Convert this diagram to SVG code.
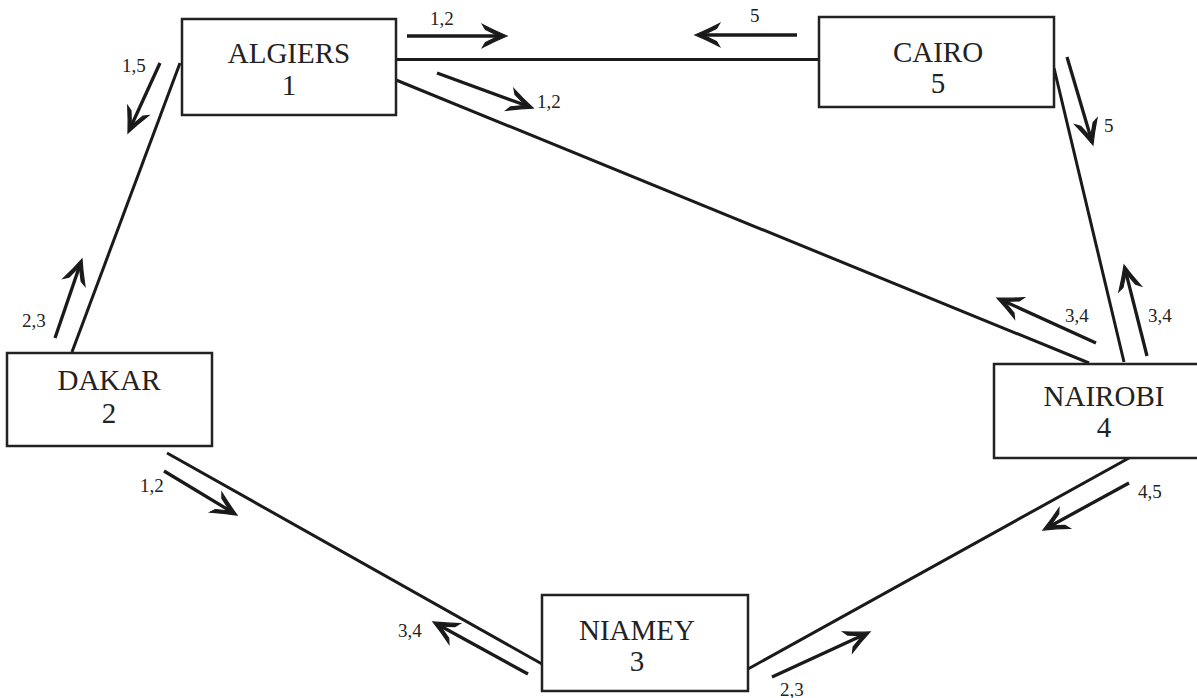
<svg xmlns="http://www.w3.org/2000/svg" width="1197" height="698" viewBox="0 0 1197 698">
  <style>
    .box { fill: #ffffff; stroke: #222; stroke-width: 2.5; }
    .name { font-family: "Liberation Serif", "Times New Roman", "DejaVu Serif", serif; font-size: 29px; fill: #222; text-anchor: middle; }
    .link { stroke: #1a1a1a; stroke-width: 3; fill: none; }
    .flow { stroke: #1a1a1a; stroke-width: 3.3; fill: none; marker-end: url(#head); }
    .lbl { font-family: "Liberation Serif", "Times New Roman", "DejaVu Serif", serif; font-size: 19px; fill: #222; }
  </style>
  <defs>
    <!-- barbed arrowhead; tip sits 8px beyond the end of the shaft -->
    <marker id="head" markerUnits="userSpaceOnUse" viewBox="-30 -14 32 28" markerWidth="32" markerHeight="28" refX="-8" refY="0" orient="auto">
      <path d="M0,0 Q-12,-5 -24.5,-11.5 L-21.5,-6.5 Q-14,-2.8 -8,0 Q-14,2.8 -21.5,6.5 L-24.5,11.5 Q-12,5 0,0 Z" fill="#1a1a1a" stroke="#1a1a1a" stroke-width="1.2" stroke-linejoin="miter"/>
    </marker>
  </defs>
  <rect width="1197" height="698" fill="#ffffff"/>

  <!-- links between cities -->
  <g id="connectors">
    <line class="link" x1="396" y1="59.5" x2="819" y2="59.5"/>
    <line class="link" x1="396" y1="80" x2="1089" y2="363"/>
    <line class="link" x1="180" y1="63" x2="72" y2="352"/>
    <line class="link" x1="1054" y1="68" x2="1124" y2="362"/>
    <line class="link" x1="1129" y1="458" x2="748" y2="669"/>
    <line class="link" x1="167" y1="453" x2="542" y2="664"/>

    <!-- traffic direction arrows -->
    <path class="flow" d="M407,36 L499,36"/>
    <path class="flow" d="M797,35 L703,35"/>
    <path class="flow" d="M437,73 L525.5,105.3"/>
    <path class="flow" d="M160,63 L131.3,125.7"/>
    <path class="flow" d="M55,338 L79.4,266.6"/>
    <path class="flow" d="M1067,57 L1090.7,137.3"/>
    <path class="flow" d="M1147,356 L1126,272.8"/>
    <path class="flow" d="M1096,343 L1004.3,301.3"/>
    <path class="flow" d="M1129,483 L1050,526.2"/>
    <path class="flow" d="M164,471 L230.1,510.9"/>
    <path class="flow" d="M528,674 L440,625.8"/>
    <path class="flow" d="M772,677 L862.7,635.3"/>

    <text class="lbl" x="430" y="25">1,2</text>
    <text class="lbl" x="750" y="22">5</text>
    <text class="lbl" x="537" y="108">1,2</text>
    <text class="lbl" x="122" y="72">1,5</text>
    <text class="lbl" x="22" y="327">2,3</text>
    <text class="lbl" x="1104" y="132">5</text>
    <text class="lbl" x="1148" y="322">3,4</text>
    <text class="lbl" x="1065" y="322">3,4</text>
    <text class="lbl" x="1138" y="498">4,5</text>
    <text class="lbl" x="140" y="492">1,2</text>
    <text class="lbl" x="398" y="637">3,4</text>
    <text class="lbl" x="780" y="696">2,3</text>
  </g>

  <g id="algiers">
    <rect class="box" x="182" y="19" width="214" height="96"/>
    <text class="name" x="289" y="63">ALGIERS</text>
    <text class="name" x="289" y="95">1</text>
  </g>
  <g id="cairo">
    <rect class="box" x="819" y="17" width="235" height="90"/>
    <text class="name" x="938" y="62">CAIRO</text>
    <text class="name" x="938" y="93">5</text>
  </g>
  <g id="dakar">
    <rect class="box" x="7" y="353" width="205" height="93"/>
    <text class="name" x="109" y="390">DAKAR</text>
    <text class="name" x="109" y="423">2</text>
  </g>
  <g id="nairobi">
    <rect class="box" x="994" y="364" width="220" height="94"/>
    <text class="name" x="1104" y="406">NAIROBI</text>
    <text class="name" x="1104" y="437">4</text>
  </g>
  <g id="niamey">
    <rect class="box" x="542" y="595" width="206" height="96"/>
    <text class="name" x="637" y="640">NIAMEY</text>
    <text class="name" x="637" y="671">3</text>
  </g>
</svg>
